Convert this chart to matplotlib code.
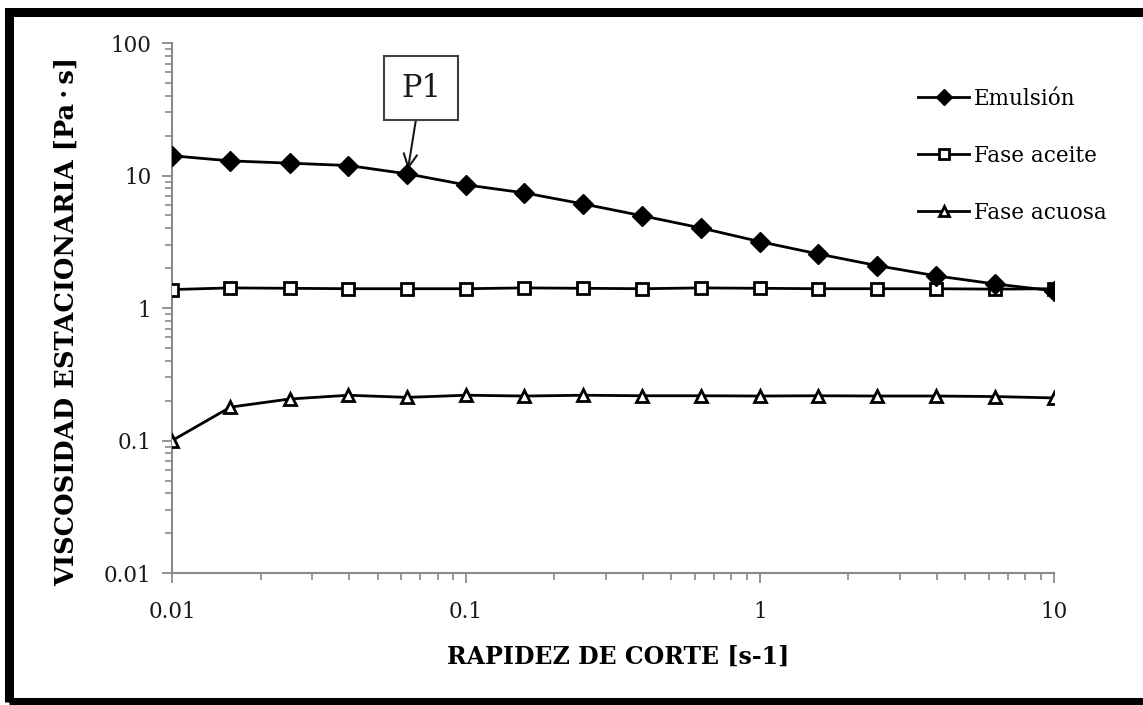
import matplotlib
matplotlib.use("Agg")
import matplotlib.pyplot as plt
from matplotlib.patches import Rectangle
from matplotlib.ticker import LogLocator, FuncFormatter, NullFormatter

# shear rate, 5 points per decade
shear_rate = [0.01, 0.0158, 0.0251, 0.0398, 0.0631, 0.1, 0.158, 0.251,
              0.398, 0.631, 1.0, 1.58, 2.51, 3.98, 6.31, 10.0]

visc_emulsion = [14.1, 12.9, 12.4, 11.9, 10.3, 8.5, 7.4, 6.1,
                 4.97, 4.02, 3.17, 2.56, 2.09, 1.75, 1.52, 1.35]
visc_oil = [1.38, 1.42, 1.41, 1.40, 1.40, 1.40, 1.42, 1.41,
            1.40, 1.42, 1.41, 1.40, 1.40, 1.40, 1.39, 1.40]
visc_water = [0.100, 0.179, 0.206, 0.220, 0.212, 0.220, 0.217, 0.220,
              0.218, 0.218, 0.217, 0.218, 0.217, 0.217, 0.215, 0.210]

series_labels = ["Emulsión", "Fase aceite", "Fase acuosa"]
x_ticks = [0.01, 0.1, 1, 10]
y_ticks = [0.01, 0.1, 1, 10, 100]

plt.rcParams["font.family"] = ["DejaVu Serif"]

fig = plt.figure(figsize=(11.43, 7.05), dpi=100)
ax = fig.add_axes([0.1505, 0.187, 0.7716, 0.752])

ax.plot(shear_rate, visc_emulsion, color="black", lw=2, marker="D",
        ms=10, mfc="black", mec="black", label=series_labels[0], zorder=4)
ax.plot(shear_rate, visc_oil, color="black", lw=2, marker="s",
        ms=8.5, mfc="white", mec="black", mew=2, label=series_labels[1], zorder=3)
ax.plot(shear_rate, visc_water, color="black", lw=2, marker="^",
        ms=9, mfc="white", mec="black", mew=2, label=series_labels[2], zorder=3)

ax.set_xscale("log")
ax.set_yscale("log")
ax.set_xlim(0.01, 10)
ax.set_ylim(0.01, 100)

fmt = FuncFormatter(lambda v, _: f"{v:g}")
ax.set_xticks(x_ticks)
ax.set_yticks(y_ticks)
ax.xaxis.set_major_formatter(fmt)
ax.yaxis.set_major_formatter(fmt)
for axis in (ax.xaxis, ax.yaxis):
    axis.set_minor_locator(LogLocator(base=10, subs=range(2, 10)))
    axis.set_minor_formatter(NullFormatter())

ax.spines["top"].set_visible(False)
ax.spines["right"].set_visible(False)
for side in ("left", "bottom"):
    ax.spines[side].set_color("#8a8a8a")
    ax.spines[side].set_linewidth(1.5)
    ax.spines[side].set_zorder(1)
ax.tick_params(which="major", direction="out", length=7, width=1.3,
               color="#8a8a8a", labelsize=15.5, labelcolor="#1a1a1a", pad=8)
ax.tick_params(axis="x", which="major", pad=13)
ax.tick_params(which="minor", direction="out", length=5, width=1.2,
               color="#8a8a8a")

ax.set_xlabel("RAPIDEZ DE CORTE [s-1]", fontsize=17, fontweight="bold")
ax.set_ylabel("VISCOSIDAD ESTACIONARIA [Pa\u2009·\u2009s]", fontsize=18.5,
              fontweight="bold")
ax.xaxis.set_label_coords(0.506, -0.135)
ax.yaxis.set_label_coords(-0.106, 0.474)

ax.legend(loc="upper left", bbox_to_anchor=(0.786, 0.903),
          bbox_transform=fig.transFigure, frameon=False, fontsize=15.5,
          handlelength=2.4, handletextpad=0.2, labelspacing=1.62,
          markerscale=0.85)

# callout for the P1 point on the emulsion curve
ax.annotate("P1", xy=(shear_rate[4], visc_emulsion[4]),
            xytext=(0.0703, 45.7), textcoords="data",
            fontsize=22, ha="center", va="center", color="#1a1a1a",
            bbox=dict(boxstyle="square,pad=0.55", fc="white",
                      ec="#404040", lw=1.5),
            arrowprops=dict(arrowstyle="->", color="#1a1a1a", lw=1.5,
                            mutation_scale=24, shrinkA=0, shrinkB=3))

# heavy frame around the whole figure
fig.patches.append(Rectangle((9 / 1143, 3.5 / 705), 1.1, 1 - 15 / 705,
                             transform=fig.transFigure, fill=False,
                             ec="black", lw=6.5, clip_on=False))

fig.savefig("out.png", dpi=100)
